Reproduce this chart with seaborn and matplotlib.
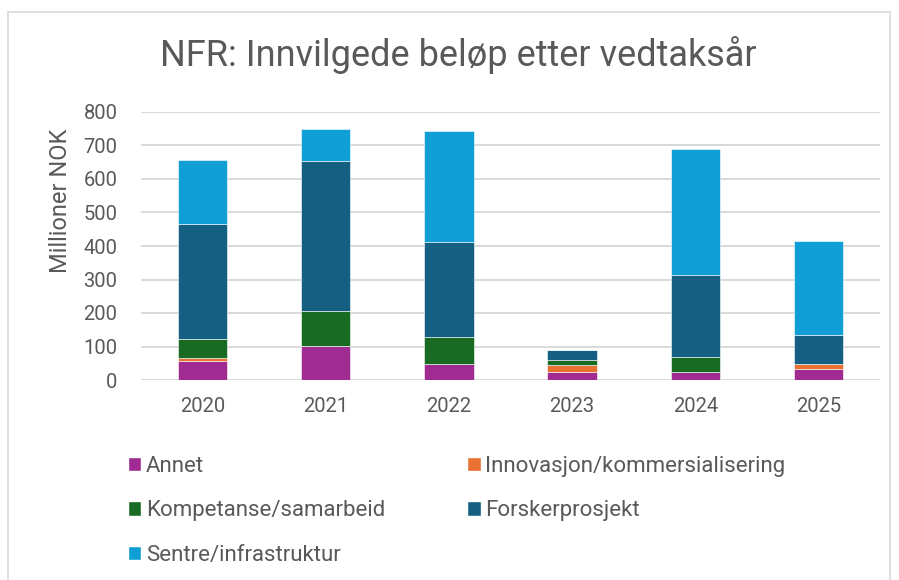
import matplotlib
matplotlib.use("Agg")
import matplotlib.pyplot as plt
import seaborn as sns
import numpy as np
import pandas as pd
from matplotlib.patches import Rectangle, Patch

# Data (millioner NOK)
years = ["2020", "2021", "2022", "2023", "2024", "2025"]
annet = [56, 102, 48, 23, 24, 34]
innovasjon = [9, 0, 0, 21, 0, 15]
kompetanse = [58, 105, 79, 16, 45, 0]
forsker = [344, 447, 285, 31, 245, 86]
sentre = [191, 95, 332, 0, 375, 281]

series = ["Annet", "Innovasjon/kommersialisering", "Kompetanse/samarbeid",
          "Forskerprosjekt", "Sentre/infrastruktur"]
values = [annet, innovasjon, kompetanse, forsker, sentre]
colors = ["#a02b93", "#e97132", "#196b24", "#156082", "#0f9ed5"]

sns.set_style("white")
plt.rcParams['font.family'] = ['Roboto', 'DejaVu Sans']
grey = "#595959"

fig = plt.figure(figsize=(8.99, 5.80), dpi=100)
ax = fig.add_axes([141 / 899, 1 - 380 / 580, (880 - 141) / 899, (380 - 112) / 580])

# chart frame
fig.patches.append(Rectangle((8 / 899, -0.01), 882 / 899, 1 - 12 / 580 + 0.01,
                             transform=fig.transFigure, fill=False,
                             edgecolor="#d9d9d9", linewidth=1.2))

bottom = np.zeros(len(years))
for name, vals, col in zip(series, values, colors):
    df = pd.DataFrame({"year": years, "value": vals})
    sns.barplot(data=df, x="year", y="value", bottom=bottom, color=col,
                width=0.4, ax=ax, saturation=1, edgecolor="white", linewidth=0.4)
    bottom = bottom + np.array(vals)

ax.set_ylim(0, 800)
ax.set_xlim(-0.5, 5.5)
ax.set_yticks(range(0, 801, 100))
ax.yaxis.grid(True, color="#d9d9d9", linewidth=1.4)
ax.set_axisbelow(True)
for s in ax.spines.values():
    s.set_visible(False)
ax.tick_params(axis="both", length=0, labelsize=14.5, colors=grey)
ax.tick_params(axis="x", pad=12)
ax.tick_params(axis="y", pad=17)
ax.set_xlabel("")
ax.set_ylabel("Millioner NOK", fontsize=17, color=grey)
ax.yaxis.set_label_coords(-0.093, 0.67)

fig.text(0.51, 1 - 55 / 580, "NFR: Innvilgede beløp etter vedtaksår",
         ha="center", va="center", fontsize=26, color=grey)

# legend filled row by row like the original
order = [0, 2, 4, 1, 3]
handles = [Patch(facecolor=colors[i], label=series[i]) for i in order]
fig.legend(handles=handles, ncol=2, loc="upper left",
           bbox_to_anchor=(108 / 899, 1 - 436 / 580), frameon=False,
           fontsize=16, labelcolor=grey, handlelength=0.6,
           handleheight=0.6, handletextpad=0.2, columnspacing=3.7,
           labelspacing=1.05)

fig.savefig("out.png", dpi=100)
